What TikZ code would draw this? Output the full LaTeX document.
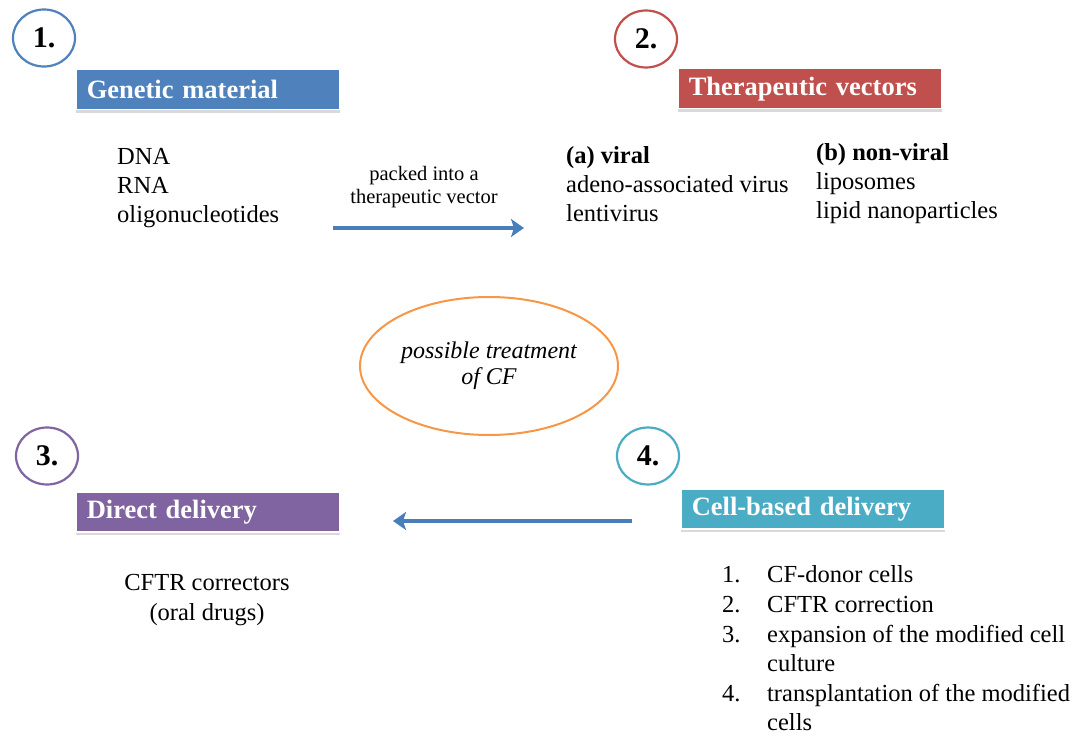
\documentclass[tikz,border=0pt]{standalone}
\usepackage{fontspec}
\setmainfont{Liberation Serif}
\usetikzlibrary{shapes.geometric}
\usetikzlibrary{positioning}
\usetikzlibrary{shadows}
\usetikzlibrary{arrows.meta}
\definecolor{geneblue}{HTML}{4F81BD}
\definecolor{vectred}{HTML}{C0504D}
\definecolor{directviolet}{HTML}{8064A2}
\definecolor{cellteal}{HTML}{4BACC6}
\definecolor{cforange}{HTML}{F79646}
\definecolor{arrowblue}{HTML}{4A7EBB}
\tikzset{
    numcircle/.style={
        draw=#1,ellipse,fill=white,line width=2.2pt,
        minimum width=62pt,minimum height=57pt,
        inner sep=0pt,
        font=\fontsize{30}{32}\selectfont\bfseries,
        },
    headbox/.style={
        rectangle,fill=#1,draw=white,line width=1.5pt,
        text=white,anchor=north west,
        minimum height=40pt,text width=242pt,
        inner xsep=11pt,inner ysep=0pt,align=left,
        font=\fontsize{26.5}{28}\selectfont\bfseries,
        drop shadow={shadow xshift=0pt,shadow yshift=-3pt,opacity=.3},
        },
    plaintext/.style={
        align=left,inner sep=0pt,
        font=\fontsize{24.5}{29}\selectfont,
        },
    flowarrow/.style={
        draw=arrowblue,line width=3.8pt,
        -{Stealth[length=13pt,width=18pt,inset=3pt]},
        }
    }
\begin{document}
\begin{tikzpicture}[x=1pt,y=-1pt]
    \useasboundingbox (0,0) rectangle (1080,738);
    % numbers
    \node[numcircle=geneblue] (n1) at (44,38) {1.};
    \node[numcircle=vectred] (n2) at (646,39) {2.};
    \node[numcircle=directviolet] (n3) at (47,456) {3.};
    \node[numcircle=cellteal] (n4) at (648,456) {4.};
    % headers
    \node[headbox=geneblue] (genetic) at (75,69) {Genetic material};
    \node[headbox=vectred] (vectors) at (677,68) {Therapeutic vectors};
    \node[headbox=directviolet] (direct) at (75,491) {Direct delivery};
    \node[headbox=cellteal] (cellbased) at (680,488) {Cell-based delivery};
    % texts
    \node[plaintext,anchor=west] (material) at (117,188) {DNA\\RNA\\oligonucleotides};
    \node[plaintext,anchor=west] (viral) at (566,184) {\textbf{(a) viral}\\adeno-associated virus\\lentivirus};
    \node[plaintext,anchor=west] (nonviral) at (816,184) {\textbf{(b) non-viral}\\liposomes\\lipid nanoparticles};
    \node[plaintext,align=center,font=\fontsize{24.5}{30}\selectfont] (cftr) at (207,600) {CFTR correctors\\(oral drugs)};
    \node[plaintext,anchor=north west,font=\fontsize{24.5}{29.6}\selectfont] (steps) at (722,562) {%
        \begin{tabular}{@{}p{45pt}@{}l@{}}
        1. & CF-donor cells\\
        2. & CFTR correction\\
        3. & expansion of the modified cell\\
           & culture\\
        4. & transplantation of the modified\\
           & cells
        \end{tabular}};
    % centre
    \node[ellipse,draw=cforange,line width=2pt,minimum width=228pt,minimum height=138pt,
        align=center,font=\fontsize{24}{26}\selectfont\itshape] (treat) at (489,366) {possible treatment\\of CF};
    % arrows
    \coordinate (packfrom) at (333,228);
    \coordinate (packto) at (524,228);
    \draw[flowarrow] (packfrom) -- (packto);
    \node[align=center,inner sep=0pt,font=\fontsize{20.5}{23}\selectfont] (packlabel) at (424,187) {packed into a\\therapeutic vector};
    \coordinate (cellfrom) at (632,521);
    \coordinate (directto) at (393,521);
    \draw[flowarrow] (cellfrom) -- (directto);
\end{tikzpicture}
\end{document}
